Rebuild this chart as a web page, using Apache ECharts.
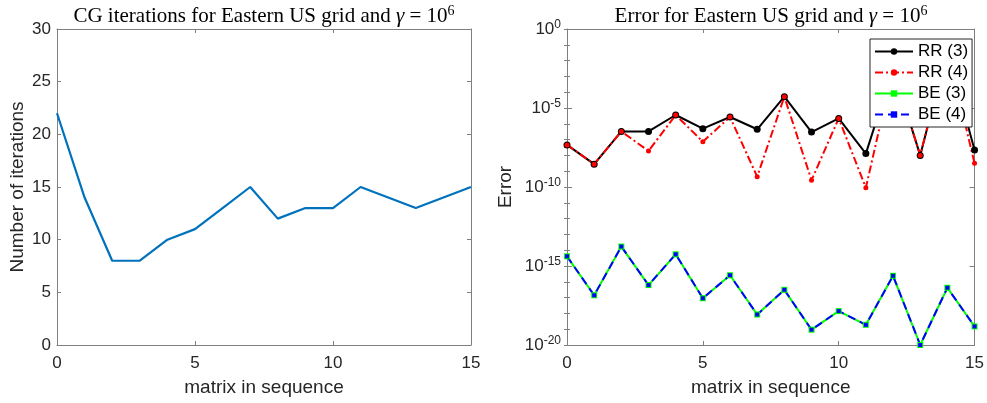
<!DOCTYPE html>
<html>
<head>
<meta charset="utf-8">
<script src="https://cdn.jsdelivr.net/npm/echarts@6/dist/echarts.min.js"></script>
<style>
  html, body { margin: 0; padding: 0; background: #fff; }
  #chart { width: 987px; height: 403px; }
</style>
</head>
<body>
<div id="chart"></div>
<script>
// matrix index in the sequence
const matrixIdx = [0, 1, 2, 3, 4, 5, 6, 7, 8, 9, 10, 11, 12, 13, 14, 15];
// left panel: CG iterations
const cgIterations = [22, 14, 8, 8, 10, 11, 13, 15, 12, 13, 13, 15, 14, 13, 14, 15];
// right panel: errors (log scale)
const errRR3 = [4.6e-8, 2.8e-9, 3.3e-7, 3.3e-7, 3.6e-6, 4.9e-7, 2.7e-6, 4.5e-7, 5.2e-5, 3.0e-7, 2.2e-6, 1.3e-8, 3.2e-3, 1.0e-8, 5.0e-2, 2.2e-8];
const errRR4 = [4.6e-8, 2.8e-9, 3.3e-7, 1.9e-8, 3.6e-6, 7.4e-8, 2.7e-6, 4.5e-10, 5.2e-5, 2.7e-10, 2.2e-6, 8.9e-11, 3.2e-3, 1.0e-8, 5.0e-2, 3.2e-9];
const errBE3 = [4.1e-15, 1.4e-17, 1.7e-14, 6.2e-17, 5.5e-15, 9.1e-18, 2.6e-16, 8.5e-19, 3.1e-17, 9.3e-20, 1.4e-18, 1.9e-19, 2.4e-16, 1.0e-20, 4.2e-17, 1.5e-19];
const errBE4 = [4.1e-15, 1.4e-17, 1.7e-14, 6.2e-17, 5.5e-15, 9.1e-18, 2.6e-16, 8.5e-19, 3.1e-17, 9.3e-20, 1.4e-18, 1.9e-19, 2.4e-16, 1.0e-20, 4.2e-17, 1.5e-19];
const xTicks = [0, 5, 10, 15];
// decade exponents for the minor ticks of the log axis
const decadeRange = [-20, 0];

const pairs = (ys) => matrixIdx.map((x, i) => [x, ys[i]]);

const sans = 'Liberation Sans, Arial, Helvetica, sans-serif';
const serif = 'Liberation Serif, Times New Roman, serif';
const axisColor = '#7f7f7f';
const labelColor = '#262626';

function titleRich() {
  return {
    t: { fontFamily: serif, fontSize: 21, fontWeight: 'normal', color: '#000' },
    g: { fontFamily: serif, fontSize: 21, fontWeight: 'normal', color: '#000', fontStyle: 'italic' },
    s: { fontFamily: serif, fontSize: 14, fontWeight: 'normal', color: '#000', padding: [0, 0, 10, 0] }
  };
}

function xAx(grid, pos, labels) {
  return {
    type: 'value', gridIndex: grid, position: pos,
    min: xTicks[0], max: xTicks[xTicks.length - 1], interval: 5,
    name: labels ? 'matrix in sequence' : '',
    nameLocation: 'middle', nameGap: 33,
    nameTextStyle: { fontFamily: sans, fontSize: 19, color: labelColor },
    axisLine: { show: true, onZero: false, lineStyle: { color: axisColor, width: 1 } },
    axisTick: { show: true, inside: true, length: 4, lineStyle: { color: axisColor } },
    axisLabel: { show: labels, margin: 10, fontFamily: sans, fontSize: 17, color: labelColor },
    splitLine: { show: false }
  };
}

function logLabel(v) {
  const e = Math.round(Math.log10(v));
  return '{b|10}{e|' + e + '}';
}

function logAx(pos, labels) {
  return {
    type: 'log', logBase: 10, gridIndex: 1, position: pos,
    min: 1e-20, max: 1, interval: 5, splitNumber: 4,
    name: labels ? 'Error' : '',
    nameLocation: 'middle', nameGap: 52,
    nameTextStyle: { fontFamily: sans, fontSize: 19, color: labelColor },
    axisLine: { show: true, onZero: false, lineStyle: { color: axisColor, width: 1 } },
    axisTick: { show: true, inside: true, length: 5, lineStyle: { color: axisColor } },
    axisLabel: {
      show: labels, margin: 6, formatter: logLabel,
      rich: {
        b: { fontFamily: sans, fontSize: 17, color: labelColor },
        e: { fontFamily: sans, fontSize: 12, color: labelColor, padding: [0, 0, 9, 0] }
      }
    },
    splitLine: { show: false }
  };
}

// tick-only axis on the decade exponents (same positions as the log scale decades)
function decadeAx(pos) {
  return {
    type: 'value', gridIndex: 1, position: pos,
    min: decadeRange[0], max: decadeRange[1], interval: 1,
    axisLine: { show: false },
    axisTick: { show: true, inside: true, length: 3, lineStyle: { color: axisColor } },
    axisLabel: { show: false },
    splitLine: { show: false }
  };
}

const chart = echarts.init(document.getElementById('chart'));
chart.setOption({
  animation: false,
  backgroundColor: '#fff',
  title: [
    {
      text: '{t|CG iterations for Eastern US grid and }{g|γ}{t| = 10}{s|6}',
      left: 259, top: -1, textAlign: 'center',
      textStyle: { fontWeight: 'normal', rich: titleRich() }
    },
    {
      text: '{t|Error for Eastern US grid and }{g|γ}{t| = 10}{s|6}',
      left: 766, top: -1, textAlign: 'center',
      textStyle: { fontWeight: 'normal', rich: titleRich() }
    }
  ],
  legend: {
    orient: 'vertical', left: 870, top: 39,
    backgroundColor: '#fff', borderColor: '#262626', borderWidth: 1, borderRadius: 0,
    padding: [4, 4, 4, 4], itemGap: 4, itemWidth: 38, itemHeight: 8,
    textStyle: { fontFamily: sans, fontSize: 17, color: '#000' },
    data: ['RR (3)', 'RR (4)', 'BE (3)', 'BE (4)']
  },
  grid: [
    { left: 57, top: 29, width: 414, height: 316 },
    { left: 567, top: 29, width: 408, height: 316 }
  ],
  xAxis: [xAx(0, 'bottom', true), xAx(0, 'top', false), xAx(1, 'bottom', true), xAx(1, 'top', false)],
  yAxis: [
    {
      type: 'value', gridIndex: 0, position: 'left', min: 0, max: 30, interval: 5,
      name: 'Number of iterations', nameLocation: 'middle', nameGap: 30,
      nameTextStyle: { fontFamily: sans, fontSize: 19, color: labelColor },
      axisLine: { show: true, onZero: false, lineStyle: { color: axisColor, width: 1 } },
      axisTick: { show: true, inside: true, length: 4, lineStyle: { color: axisColor } },
      axisLabel: { margin: 6, fontFamily: sans, fontSize: 17, color: labelColor },
      splitLine: { show: false }
    },
    {
      type: 'value', gridIndex: 0, position: 'right', min: 0, max: 30, interval: 5,
      axisLine: { show: true, onZero: false, lineStyle: { color: axisColor, width: 1 } },
      axisTick: { show: true, inside: true, length: 4, lineStyle: { color: axisColor } },
      axisLabel: { show: false },
      splitLine: { show: false }
    },
    logAx('left', true),
    logAx('right', false),
    decadeAx('left'),
    decadeAx('right')
  ],
  series: [
    {
      name: 'CG', type: 'line', xAxisIndex: 0, yAxisIndex: 0,
      data: pairs(cgIterations), showSymbol: false,
      lineStyle: { color: '#0072BD', width: 2.2 }, itemStyle: { color: '#0072BD' }
    },
    {
      name: 'RR (3)', type: 'line', xAxisIndex: 2, yAxisIndex: 2,
      data: pairs(errRR3), symbol: 'circle', symbolSize: 7,
      lineStyle: { color: '#000', width: 2 }, itemStyle: { color: '#000' }
    },
    {
      name: 'RR (4)', type: 'line', xAxisIndex: 2, yAxisIndex: 2,
      data: pairs(errRR4), symbol: 'circle', symbolSize: 5,
      lineStyle: { color: '#ff0000', width: 2, type: [8, 3, 2, 3] }, itemStyle: { color: '#ff0000' }
    },
    {
      name: 'BE (3)', type: 'line', xAxisIndex: 2, yAxisIndex: 2,
      data: pairs(errBE3), symbol: 'rect', symbolSize: 6,
      lineStyle: { color: '#00ff00', width: 2 }, itemStyle: { color: '#00ff00' }
    },
    {
      name: 'BE (4)', type: 'line', xAxisIndex: 2, yAxisIndex: 2,
      data: pairs(errBE4), symbol: 'rect', symbolSize: 4,
      lineStyle: { color: '#0000ff', width: 2, type: [8, 5] }, itemStyle: { color: '#0000ff' }
    }
  ]
});
</script>
</body>
</html>
